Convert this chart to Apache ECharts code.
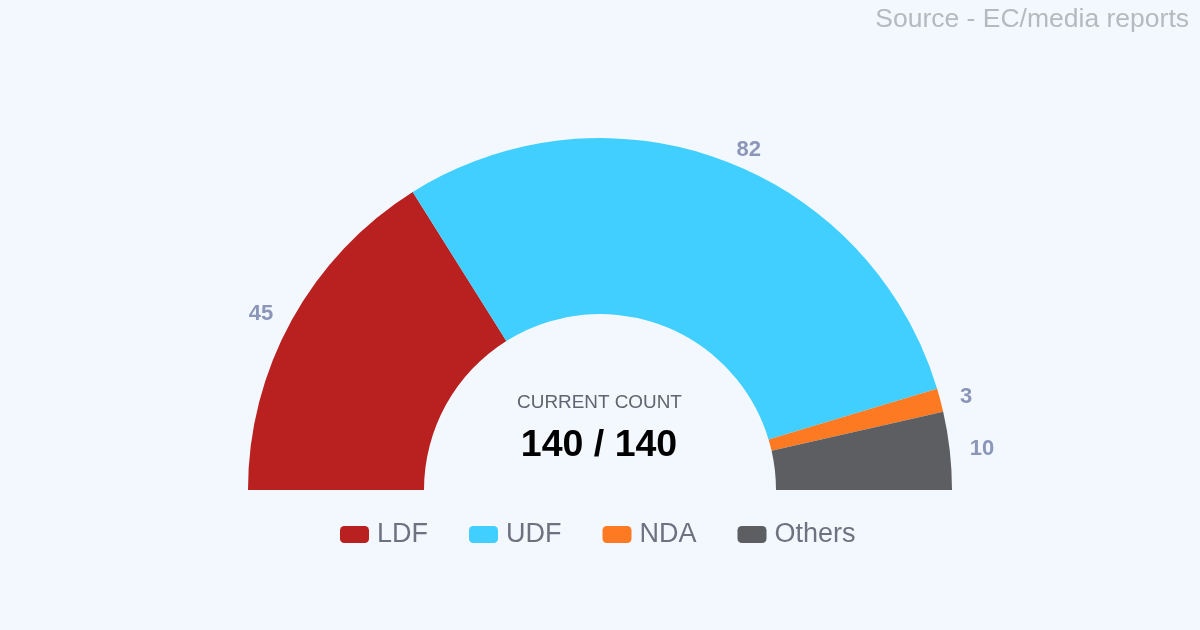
<!DOCTYPE html>
<html>
<head>
<meta charset="utf-8">
<style>
html, body { margin: 0; padding: 0; background: #f3f8fe; }
#chart { width: 1200px; height: 630px; }
</style>
<script src="https://cdn.jsdelivr.net/npm/echarts@6/dist/echarts.min.js"></script>
</head>
<body>
<div id="chart"></div>
<script>
var parties = ['LDF', 'UDF', 'NDA', 'Others'];
var seats = [45, 82, 3, 10];
var colors = ['#b92020', '#40cfff', '#fd7a22', '#5d5e61'];
var countLabel = 'CURRENT COUNT';
var countText = '140 / 140';
var sourceText = 'Source - EC/media reports';

var chart = echarts.init(document.getElementById('chart'));
var pieData = parties.map(function (name, i) {
  return { name: name, value: seats[i], itemStyle: { color: colors[i] } };
});

chart.setOption({
  animation: false,
  backgroundColor: '#f3f8fe',
  textStyle: { fontFamily: 'Liberation Sans, Arial, sans-serif' },
  title: [
    { text: sourceText, right: 6, top: 1, textStyle: { color: '#b4b9c2', fontSize: 26.5, fontWeight: 'normal' } },
    { text: countLabel, left: 594.5, top: 388, textAlign: 'center', textStyle: { color: '#5f6570', fontSize: 18.9, fontWeight: 'normal' } },
    { text: countText, left: 594, top: 422, textAlign: 'center', textStyle: { color: '#000', fontSize: 37.5, fontWeight: 'bold' } }
  ],
  legend: {
    data: parties,
    left: 335,
    top: 516,
    itemWidth: 29,
    itemHeight: 17,
    itemGap: 41,
    icon: 'roundRect',
    textStyle: { color: '#6d7280', fontSize: 27, padding: [0, 0, 0, 3] }
  },
  series: [{
    type: 'pie',
    center: [600, 490],
    radius: [176, 352],
    startAngle: 180,
    endAngle: 360,
    clockwise: true,
    silent: true,
    data: pieData,
    label: {
      show: true,
      position: 'outside',
      formatter: '{c}',
      color: '#8b96b8',
      fontSize: 22,
      fontWeight: 'bold'
    },
    labelLine: { show: false, length: 11, length2: 4 }
  }]
});
</script>
</body>
</html>
